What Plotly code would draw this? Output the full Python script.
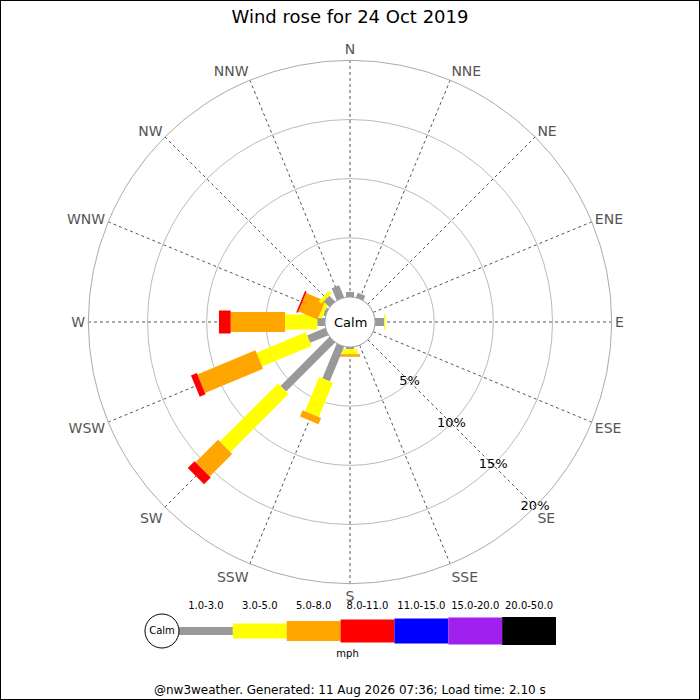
import math
import plotly.graph_objects as go

# ---- data (percent of time per direction and speed band) ----
directions = ["N", "NNE", "NE", "ENE", "E", "ESE", "SE", "SSE",
              "S", "SSW", "SW", "WSW", "W", "WNW", "NW", "NNW"]
speed_bands = ["1.0-3.0", "3.0-5.0", "5.0-8.0", "8.0-11.0",
               "11.0-15.0", "15.0-20.0", "20.0-50.0"]
band_colors = ["#999999", "#ffff00", "#ffa500", "#ff0000",
               "#0000ff", "#a020f0", "#000000"]
band_widths = [8, 15, 20, 23, 25, 27, 28]   # bar thickness in px

pct_1_3 = [0.42, 0.43, 0, 0, 0.76, 0, 0, 0, 0.20, 3.17, 5.86, 1.67, 0.65, 0.20, 0.70, 1.12]
pct_3_5 = [0, 0, 0, 0, 0.11, 0, 0, 0, 0.42, 3.14, 6.95, 4.52, 2.73, 0.30, 0.30, 0]
pct_5_8 = [0, 0, 0, 0, 0, 0, 0, 0, 0.20, 0.58, 2.69, 5.31, 4.59, 1.75, 0, 0]
pct_8_11 = [0, 0, 0, 0, 0, 0, 0, 0, 0, 0, 0.80, 0.53, 0.99, 0.15, 0, 0]
band_values = [pct_1_3, pct_3_5, pct_5_8, pct_8_11]

radial_ticks = [5, 10, 15, 20]
title_text = "Wind rose for 24 Oct 2019"
footer_text = "@nw3weather. Generated: 11 Aug 2026 07:36; Load time: 2.10 s"

# ---- geometry of the polar area ----
W = H = 700
R_OUT = 261.7          # outer radius px
R_HOLE = 25.0          # calm circle radius px
R_MAX = 20.0
SCALE = (R_OUT - R_HOLE) / R_MAX
cx, cy = 350, 322
dom_x = [(cx - R_OUT) / W, (cx + R_OUT) / W]
dom_y = [(H - cy - R_OUT) / H, (H - cy + R_OUT) / H]

fig = go.Figure()


def rect_polar(theta, r0, r1, half_w):
    # rectangle of constant pixel width along a direction, in polar data coords
    rs, ts = [], []
    for d, side in [(r0, -1), (r1, -1), (r1, 1), (r0, 1)]:
        dp = R_HOLE + SCALE * d
        rp = math.hypot(dp, half_w)
        rs.append((rp - R_HOLE) / SCALE)
        ts.append(theta + side * math.degrees(math.atan2(half_w, dp)))
    rs.append(rs[0])
    ts.append(ts[0])
    return rs, ts


for i, name in enumerate(directions):
    theta = i * 22.5
    base = 0.0
    for k, vals in enumerate(band_values):
        v = vals[i]
        if v <= 0:
            continue
        rs, ts = rect_polar(theta, base, base + v, band_widths[k] / 2)
        fig.add_trace(go.Scatterpolar(
            r=rs, theta=ts, mode="lines", fill="toself",
            fillcolor=band_colors[k], line=dict(width=0, color=band_colors[k]),
            hoverinfo="skip", showlegend=False))
        base += v

# calm circle outline
fig.add_trace(go.Scatterpolar(
    r=[0] * 361, theta=list(range(361)), mode="lines",
    line=dict(color="#999999", width=1), hoverinfo="skip", showlegend=False))

# radial labels along SE
fig.add_trace(go.Scatterpolar(
    r=radial_ticks, theta=[135] * len(radial_ticks), mode="text",
    text=[f"{t}%" for t in radial_ticks],
    textfont=dict(family="DejaVu Sans", size=13, color="#000000"),
    hoverinfo="skip", showlegend=False))

fig.update_layout(
    polar=dict(
        domain=dict(x=dom_x, y=dom_y),
        hole=R_HOLE / R_OUT,
        bgcolor="rgba(0,0,0,0)",
        radialaxis=dict(range=[0, R_MAX], tickvals=radial_ticks,
                        showticklabels=False, ticks="", showline=False,
                        gridcolor="#bbbbbb", gridwidth=1),
        angularaxis=dict(rotation=90, direction="clockwise",
                         tickmode="array",
                         tickvals=[i * 22.5 for i in range(16)],
                         ticktext=directions, ticks="",
                         tickfont=dict(family="DejaVu Sans", size=14, color="#555555"),
                         gridcolor="#555555", griddash="dot", gridwidth=1,
                         linecolor="#aaaaaa", linewidth=1, showline=True),
    ),
)

# ---- speed key at the bottom ----
SEG_PX = (556 - 179) / len(speed_bands)
KEY_X0 = -0.75
key_y = -1
for k, band in enumerate(speed_bands):
    fig.add_trace(go.Bar(
        x=[1], y=[key_y], base=[k], width=[band_widths[k]], orientation="h",
        marker=dict(color=band_colors[k], line=dict(width=0)),
        xaxis="x", yaxis="y", hoverinfo="skip", showlegend=False))
fig.add_trace(go.Scatter(
    x=[k + 0.5 for k in range(len(speed_bands))], y=[24] * len(speed_bands),
    mode="text", text=speed_bands,
    textfont=dict(family="DejaVu Sans", size=10, color="#000000"),
    xaxis="x", yaxis="y", hoverinfo="skip", showlegend=False, cliponaxis=False))
fig.add_trace(go.Scatter(
    x=[-0.316], y=[key_y], mode="markers+text", text=["Calm"],
    textposition="middle center",
    marker=dict(size=34, color="white", line=dict(color="#000000", width=1)),
    textfont=dict(family="DejaVu Sans", size=10, color="#000000"),
    xaxis="x", yaxis="y", hoverinfo="skip", showlegend=False, cliponaxis=False))
fig.add_trace(go.Scatter(
    x=[3.13], y=[-24], mode="text", text=["mph"],
    textfont=dict(family="DejaVu Sans", size=10, color="#000000"),
    xaxis="x", yaxis="y", hoverinfo="skip", showlegend=False, cliponaxis=False))

fig.update_layout(
    width=W, height=H,
    margin=dict(l=0, r=0, t=0, b=0),
    paper_bgcolor="white", plot_bgcolor="rgba(0,0,0,0)",
    barmode="overlay",
    xaxis=dict(domain=[(179 + KEY_X0 * SEG_PX) / W, 556 / W], range=[KEY_X0, 7],
               visible=False, fixedrange=True),
    yaxis=dict(domain=[40 / H, 100 / H], range=[-30, 30], visible=False, fixedrange=True),
    title=dict(text=title_text, x=0.5, xanchor="center", y=1 - 17 / H, yanchor="middle",
               font=dict(family="DejaVu Sans", size=18, color="#000000")),
    annotations=[
        dict(text="Calm", x=(dom_x[0] + dom_x[1]) / 2, y=(dom_y[0] + dom_y[1]) / 2,
             xref="paper", yref="paper", showarrow=False,
             font=dict(family="DejaVu Sans", size=13, color="#000000")),
        dict(text=footer_text, x=0.5, y=10 / H, xref="paper", yref="paper",
             showarrow=False, yanchor="middle",
             font=dict(family="DejaVu Sans", size=12, color="#000000")),
    ],
    shapes=[dict(type="rect", xref="paper", yref="paper", x0=0, y0=0, x1=1, y1=1,
                 line=dict(color="#000000", width=2))],
)

fig.write_html("out.html", config={"displayModeBar": False},
               post_script="document.body.style.margin='0';document.body.style.overflow='hidden';")
